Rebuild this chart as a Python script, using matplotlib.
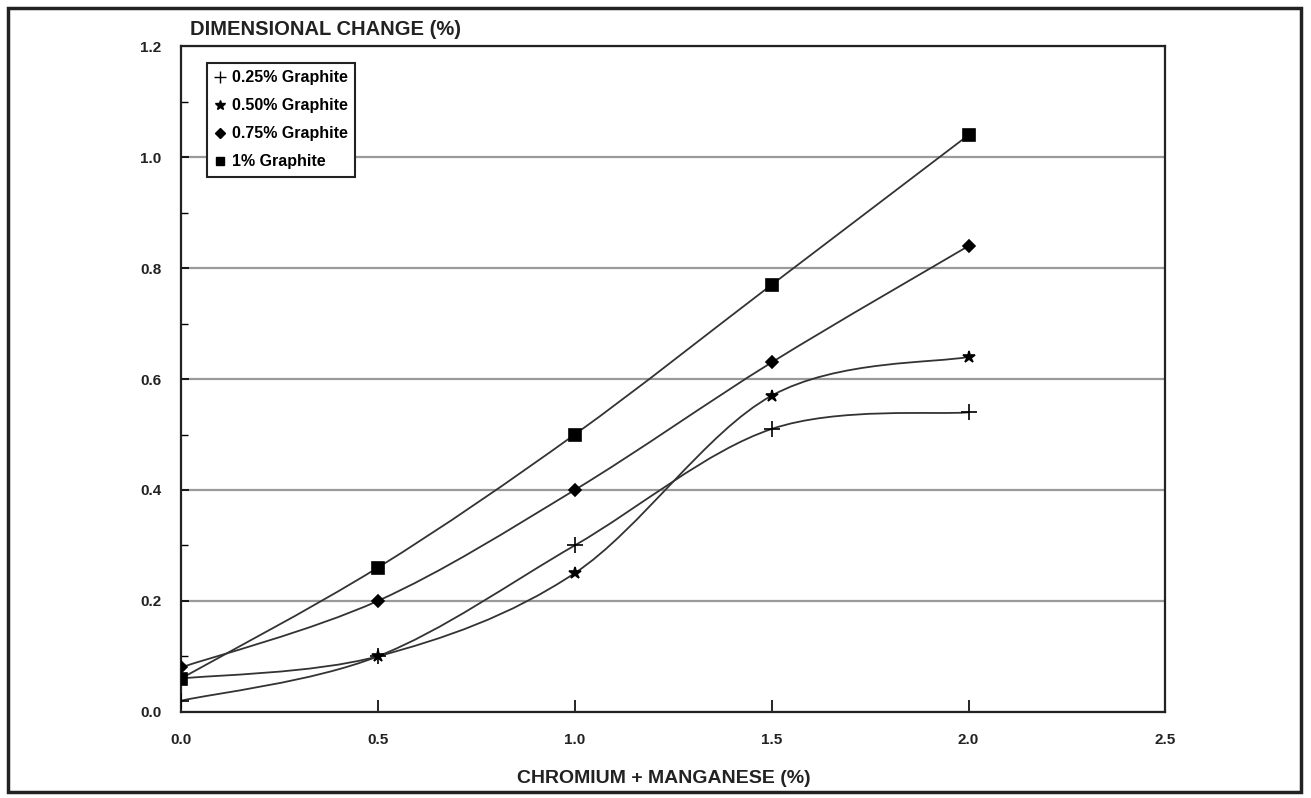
import numpy as np
import matplotlib
matplotlib.use("Agg")
import matplotlib.pyplot as plt
from matplotlib.path import Path
from matplotlib.patches import PathPatch, Rectangle
from matplotlib.lines import Line2D

plt.rcParams['font.family'] = ['Liberation Sans', 'DejaVu Sans']

# chromium + manganese content (%)
cr_mn = [0.0, 0.5, 1.0, 1.5, 2.0]

# dimensional change (%) for each graphite addition
graphite_025 = [0.02, 0.10, 0.30, 0.51, 0.54]
graphite_050 = [0.06, 0.10, 0.25, 0.57, 0.64]
graphite_075 = [0.08, 0.20, 0.40, 0.63, 0.84]
graphite_100 = [0.06, 0.26, 0.50, 0.77, 1.04]

labels = ['0.25% Graphite', '0.50% Graphite', '0.75% Graphite', '1% Graphite']
markers = ['+', '*', 'D', 's']
msizes = [11, 9, 6, 8]


def smooth_path(x, y):
    # bezier segments like a spreadsheet "smoothed line"
    x = np.asarray(x, float)
    y = np.asarray(y, float)
    n = len(x)
    verts = [(x[0], y[0])]
    codes = [Path.MOVETO]
    for i in range(n - 1):
        i0 = max(i - 1, 0)
        i3 = min(i + 2, n - 1)
        c1 = (x[i] + (x[i + 1] - x[i0]) / 6, y[i] + (y[i + 1] - y[i0]) / 6)
        c2 = (x[i + 1] - (x[i3] - x[i]) / 6, y[i + 1] - (y[i3] - y[i]) / 6)
        verts += [c1, c2, (x[i + 1], y[i + 1])]
        codes += [Path.CURVE4] * 3
    return Path(verts, codes)


fig = plt.figure(figsize=(13.11, 7.98), dpi=100)
ax = fig.add_axes([0.138, 0.108, 0.751, 0.834])

# outer frame round the whole chart
fig.patches.append(Rectangle((0.006, 0.008), 0.986, 0.982, transform=fig.transFigure,
                             fill=False, lw=2.5, ec='#222222'))

series = [graphite_025, graphite_050, graphite_075, graphite_100]
handles = []
for vals, lab, mk, ms in zip(series, labels, markers, msizes):
    ax.add_patch(PathPatch(smooth_path(cr_mn, vals), fill=False, ec='#333333', lw=1.3, zorder=3))
    ax.plot(cr_mn, vals, ls='none', marker=mk, ms=ms, color='black', mew=1.2, zorder=4)
    handles.append(Line2D([], [], ls='none', marker=mk, ms=ms * 0.8, color='black', mew=1.0))

ax.set_xlim(0, 2.5)
ax.set_ylim(0, 1.2)
ax.set_xticks(np.arange(0, 2.51, 0.5))
ax.set_yticks(np.arange(0, 1.21, 0.2))
ax.set_yticks(np.arange(0, 1.21, 0.1), minor=True)
ax.set_xticklabels(['%.1f' % v for v in np.arange(0, 2.51, 0.5)])
ax.set_yticklabels(['%.1f' % v for v in np.arange(0, 1.21, 0.2)])
ax.tick_params(axis='x', direction='in', length=9, width=1.2, pad=15, labelsize=11)
ax.tick_params(axis='y', which='major', direction='in', length=6, width=1.2, pad=14, labelsize=11)
ax.tick_params(axis='y', which='minor', direction='in', length=5, width=1.0)
for lab in ax.get_xticklabels() + ax.get_yticklabels():
    lab.set_fontweight('bold')
    lab.set_color('#222222')

ax.grid(axis='y', which='major', color='#9a9a9a', lw=1.6)
for s in ax.spines.values():
    s.set_linewidth(1.6)
    s.set_color('#222222')

ax.text(0.009, 1.011, 'DIMENSIONAL CHANGE (%)', transform=ax.transAxes, fontsize=14.5,
        fontweight='bold', color='#222222', va='bottom', ha='left')
ax.set_xlabel('CHROMIUM + MANGANESE (%)', fontsize=14, fontweight='bold', color='#222222',
              labelpad=13)
ax.xaxis.set_label_coords(0.49, -0.088)

leg = ax.legend(handles, labels, loc='upper left', bbox_to_anchor=(0.026, 0.975), borderaxespad=0,
                fancybox=False, edgecolor='#222222', framealpha=1, handlelength=0.8,
                handletextpad=0.35, labelspacing=0.82, borderpad=0.45,
                prop={'size': 11.5, 'weight': 'bold'})
leg.get_frame().set_linewidth(1.5)

fig.savefig('out.png', dpi=100)
